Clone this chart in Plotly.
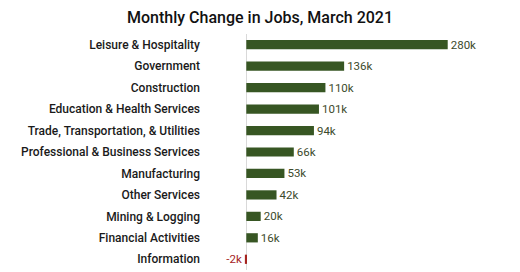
import plotly.graph_objects as go

categories = ["Leisure & Hospitality", "Government", "Construction",
              "Education & Health Services", "Trade, Transportation, & Utilities",
              "Professional & Business Services", "Manufacturing", "Other Services",
              "Mining & Logging", "Financial Activities", "Information"]
values = [280, 136, 110, 101, 94, 66, 53, 42, 20, 16, -2]
value_labels = [f"{v}k" for v in values]

GREEN = "#375623"
RED = "#a5231f"
bar_colors = [GREEN if v >= 0 else RED for v in values]
text_colors = ["#3c4a2c" if v >= 0 else RED for v in values]

fig = go.Figure(go.Bar(
    x=values, y=categories, orientation="h",
    marker=dict(color=bar_colors, line=dict(width=0)),
    text=value_labels, textposition="outside", cliponaxis=False,
    constraintext="none",
    textfont=dict(family="Roboto", size=11.5, color=text_colors),
    width=0.43,
))

fig.update_layout(
    width=520, height=272,
    margin=dict(l=201, r=20, t=34, b=2),
    paper_bgcolor="white", plot_bgcolor="white",
    title=dict(text="Monthly Change in Jobs, March 2021", x=0.5, xanchor="center",
               y=0.935, yanchor="middle",
               font=dict(family="Roboto", size=16, color="#111111", weight=500)),
    xaxis=dict(range=[-63, 352.7], visible=True, showgrid=False, showticklabels=False,
               zeroline=True, zerolinecolor="#d9d9d9", zerolinewidth=1, ticks=""),
    yaxis=dict(autorange="reversed", showgrid=False, ticks="",
               tickfont=dict(family="Roboto", size=12, color="#1a1a1a", weight=500)),
    showlegend=False,
)

fig.write_html("out.html")
